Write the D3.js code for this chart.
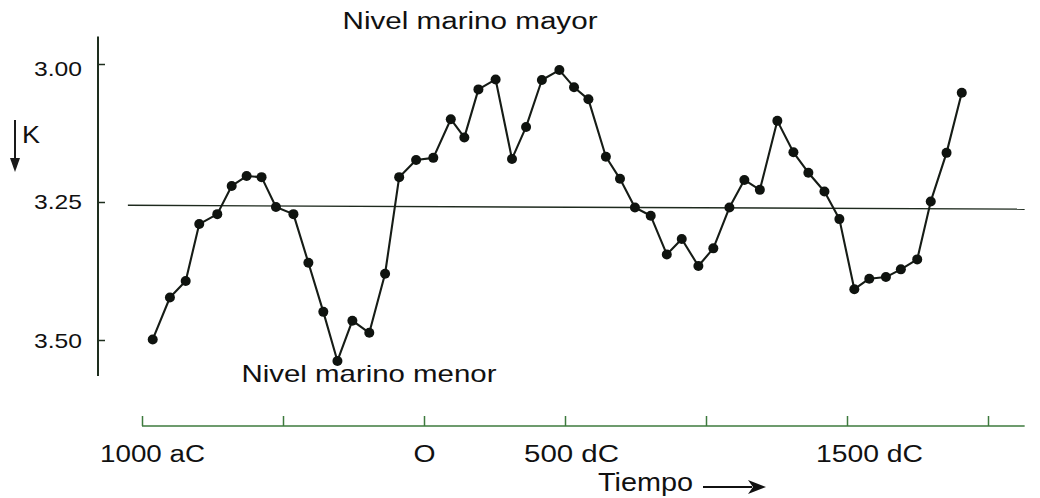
<!DOCTYPE html>
<html>
<head>
<meta charset="utf-8">
<script src="https://cdn.jsdelivr.net/npm/d3@7"></script>
<style>
  html, body { margin: 0; padding: 0; background: #ffffff; }
  svg { display: block; }
  text { font-family: "Liberation Sans", Arial, sans-serif; fill: #111; }
</style>
</head>
<body>
<svg id="chart" width="1040" height="498"></svg>
<script>
// ---- data ----
const years = [
  -962, -901, -845, -797, -733, -682, -629, -576, -525, -463,
  -410, -357, -307, -254, -194, -138, -88, -28, 33, 95,
  143, 193, 254, 312, 362, 418, 480, 532, 583, 645,
  695, 748, 804, 861, 914, 973, 1026, 1083, 1136, 1191,
  1253, 1310, 1363, 1420, 1473, 1526, 1579, 1638, 1691, 1749,
  1797, 1853, 1907
];
const levels = [
  3.499, 3.423, 3.393, 3.290, 3.272, 3.221, 3.203, 3.205, 3.259, 3.272,
  3.360, 3.449, 3.538, 3.465, 3.487, 3.380, 3.205, 3.174, 3.170, 3.100,
  3.133, 3.046, 3.028, 3.172, 3.114, 3.029, 3.011, 3.042, 3.064, 3.168,
  3.208, 3.260, 3.275, 3.345, 3.317, 3.366, 3.334, 3.260, 3.210, 3.228,
  3.103, 3.160, 3.197, 3.231, 3.281, 3.408, 3.389, 3.386, 3.372, 3.354,
  3.249, 3.161, 3.052
];
const yTickValues = [3.00, 3.25, 3.50];
const yTickLabels = ["3.00", "3.25", "3.50"];
const xTickValues = [-1000, -500, 0, 500, 1000, 1500, 2000];
const xTickLabels = ["1000 aC", "", "O", "500 dC", "", "1500 dC", ""];
const refYears = [-1050, 2130];
const refLevels = [3.256, 3.263];
const yAxisExtent = [2.95, 3.565];
const xAxisExtent = [-1000, 2130];
const titleTop = "Nivel marino mayor";
const titleBottom = "Nivel marino menor";
const xTitle = "Tiempo";
const yTitle = "K";

// ---- scales ----
const svg = d3.select("#chart");
const x = d3.scaleLinear().domain([-1000, 2000]).range([142, 988]);
const y = d3.scaleLinear().domain([3.0, 3.5]).range([64, 340]);

const ink = "#161c16";
const green = "#3d7a3d";

// ---- y axis ----
const yAxisX = 98;
svg.append("line")
  .attr("x1", yAxisX).attr("x2", yAxisX)
  .attr("y1", y(yAxisExtent[0])).attr("y2", y(yAxisExtent[1]))
  .attr("stroke", "#1e2e1e").attr("stroke-width", 2);

const yAxis = d3.axisLeft(y)
  .tickValues(yTickValues)
  .tickFormat((d, i) => yTickLabels[i])
  .tickSizeInner(-7).tickSizeOuter(0).tickPadding(16);
const gy = svg.append("g").attr("transform", `translate(${yAxisX},0)`).call(yAxis);
gy.select(".domain").remove();
gy.selectAll(".tick line").attr("stroke", "#1e2e1e").attr("stroke-width", 1.5);
const yLabelShift = [5, 0, 1];
gy.selectAll(".tick text")
  .style("font-family", '"Liberation Sans", Arial, sans-serif')
  .style("font-size", "21px")
  .attr("fill", "#2a2f2a")
  .attr("y", (d, i) => yLabelShift[i])
  .attr("textLength", 48).attr("lengthAdjust", "spacingAndGlyphs");

// ---- reference line ----
svg.append("line")
  .attr("x1", x(refYears[0])).attr("y1", y(refLevels[0]))
  .attr("x2", x(refYears[1])).attr("y2", y(refLevels[1]))
  .attr("stroke", "#1e2a1e").attr("stroke-width", 1.4);

// ---- data line and points ----
const pts = years.map((yr, i) => ({ yr, v: levels[i] }));
svg.append("path")
  .datum(pts)
  .attr("fill", "none")
  .attr("stroke", ink)
  .attr("stroke-width", 2.1)
  .attr("stroke-linejoin", "round")
  .attr("d", d3.line().x(d => x(d.yr)).y(d => y(d.v)));

svg.append("g").selectAll("circle")
  .data(pts).join("circle")
  .attr("cx", d => x(d.yr)).attr("cy", d => y(d.v))
  .attr("r", 5).attr("fill", "#0f130f");

// ---- x axis ----
const xAxisY = 426;
svg.append("line")
  .attr("x1", x(xAxisExtent[0])).attr("x2", x(xAxisExtent[1]))
  .attr("y1", xAxisY).attr("y2", xAxisY)
  .attr("stroke", green).attr("stroke-width", 1.6);

const xAxis = d3.axisBottom(x)
  .tickValues(xTickValues)
  .tickFormat((d, i) => xTickLabels[i])
  .tickSizeInner(-10).tickSizeOuter(0);
const gx = svg.append("g").attr("transform", `translate(0,${xAxisY})`).call(xAxis);
gx.select(".domain").remove();
gx.selectAll(".tick line").attr("stroke", green).attr("stroke-width", 1.5);
const labelShift = [10, 0, 0, 6, 0, 22, 0];
const labelWidth = [105, 0, 22, 95, 0, 107, 0];
gx.selectAll(".tick text")
  .style("font-family", '"Liberation Sans", Arial, sans-serif')
  .style("font-size", "23px")
  .attr("fill", "#111")
  .attr("y", 36).attr("dy", null)
  .attr("x", (d, i) => labelShift[i])
  .each(function (d, i) {
    if (labelWidth[i] > 0) {
      d3.select(this).attr("textLength", labelWidth[i]).attr("lengthAdjust", "spacingAndGlyphs");
    }
  });

// ---- titles ----
svg.append("text")
  .attr("x", 470).attr("y", 29)
  .attr("text-anchor", "middle")
  .style("font-size", "23px")
  .attr("textLength", 255).attr("lengthAdjust", "spacingAndGlyphs")
  .text(titleTop);

svg.append("text")
  .attr("x", 369).attr("y", 382)
  .attr("text-anchor", "middle")
  .style("font-size", "24px")
  .attr("textLength", 255).attr("lengthAdjust", "spacingAndGlyphs")
  .text(titleBottom);

svg.append("text")
  .attr("x", 598).attr("y", 491)
  .style("font-size", "25px")
  .attr("textLength", 95).attr("lengthAdjust", "spacingAndGlyphs")
  .text(xTitle);

// arrow after Tiempo
svg.append("line")
  .attr("x1", 703).attr("x2", 752).attr("y1", 487).attr("y2", 487)
  .attr("stroke", "#111").attr("stroke-width", 2);
svg.append("path")
  .attr("d", "M748,480 L766,487 L748,494 L753,487 Z")
  .attr("fill", "#111");

// K with downward arrow
svg.append("line")
  .attr("x1", 15).attr("x2", 15).attr("y1", 120).attr("y2", 162)
  .attr("stroke", "#1a1a1a").attr("stroke-width", 2);
svg.append("path")
  .attr("d", "M10,158 L15,172 L20,158 Z")
  .attr("fill", "#1a1a1a");
svg.append("text")
  .attr("x", 22).attr("y", 143)
  .style("font-size", "23px")
  .attr("fill", "#2a2f2a")
  .attr("textLength", 18).attr("lengthAdjust", "spacingAndGlyphs")
  .text(yTitle);
</script>
</body>
</html>
